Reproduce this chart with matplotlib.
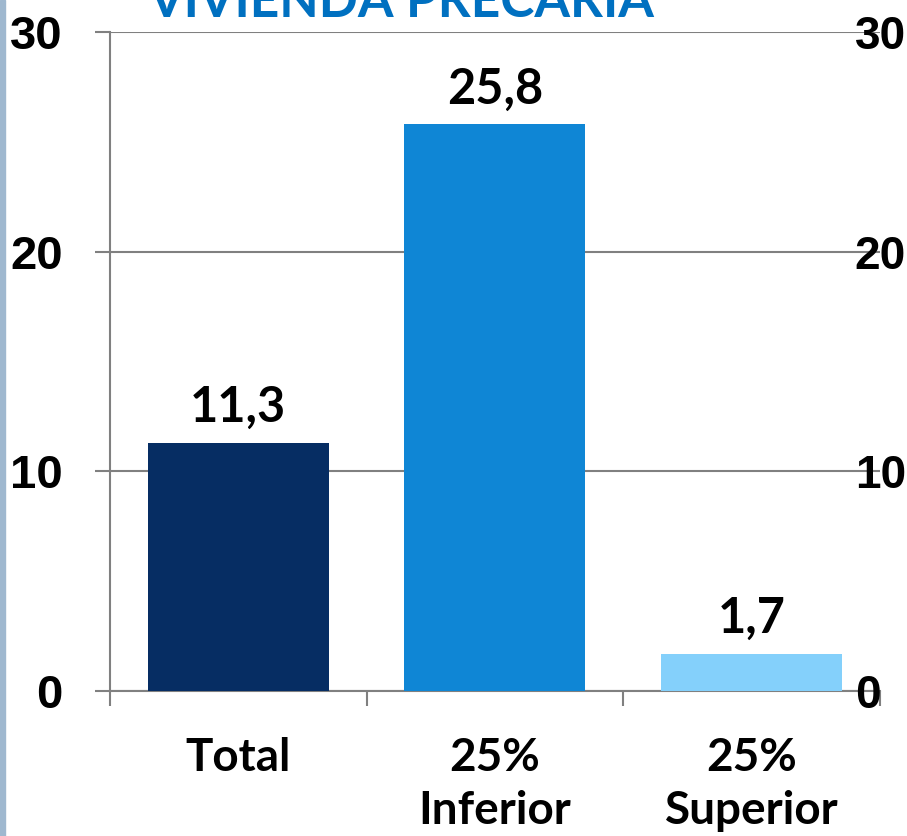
import matplotlib.pyplot as plt
from matplotlib.patches import Rectangle

# datos
categorias = ['Total', '25%\nInferior', '25%\nSuperior']
valores = [11.3, 25.8, 1.7]
colores = ['#062D63', '#0F86D5', '#84D0FB']
ticks_y = [0, 10, 20, 30]
titulo = 'VIVIENDA PRECARIA'

GRIS = '#808080'
FUENTE = ['Lato', 'DejaVu Sans']
FUENTE_EJE = ['Liberation Sans', 'DejaVu Sans']

fig = plt.figure(figsize=(9.07, 8.36), dpi=100)
ax = fig.add_axes([0.1213, 0.1734, 0.8487, 0.7883])

x = range(len(categorias))
ax.bar(x, valores, width=0.705, color=colores, zorder=3)

ax.set_xlim(-0.5, len(categorias) - 0.5)
ax.set_ylim(0, 30)
ax.set_yticks(ticks_y)
ax.set_yticklabels([str(t) for t in ticks_y], fontsize=34, fontweight='bold',
                   family=FUENTE_EJE)
ax.tick_params(axis='y', length=11, width=1.5, color=GRIS, pad=23)
ax.grid(axis='y', color=GRIS, lw=1.5, zorder=0)

ax.set_xticks(list(x))
ax.set_xticklabels(categorias, fontsize=33, fontweight='bold', family=FUENTE,
                   linespacing=1.32)
ax.tick_params(axis='x', length=0, pad=33)
ax.set_xticks([i - 0.5 for i in range(len(categorias) + 1)], minor=True)
ax.tick_params(axis='x', which='minor', length=11, width=1.5, color=GRIS)

for lado in ['top', 'right']:
    ax.spines[lado].set_visible(False)
for lado in ['left', 'bottom']:
    ax.spines[lado].set_color(GRIS)
    ax.spines[lado].set_linewidth(1.5)

# eje derecho
ax2 = ax.twinx()
ax2.set_ylim(ax.get_ylim())
ax2.set_yticks(ticks_y)
ax2.set_yticklabels([str(t) for t in ticks_y], fontsize=33, fontweight='bold',
                    family=FUENTE_EJE)
ax2.tick_params(axis='y', length=0, pad=-18)
for lado in ax2.spines:
    ax2.spines[lado].set_visible(False)

# etiquetas de valores
for i, v in enumerate(valores):
    ax.annotate(f'{v:.1f}'.replace('.', ','), (i, v), xytext=(0, 15),
                textcoords='offset points', ha='center', va='baseline',
                fontsize=35, fontweight='bold', family=FUENTE)

fig.text(0.442, 0.98, titulo, ha='center', va='baseline', fontsize=37,
         fontweight='bold', color='#0070C0', family=FUENTE)

fig.patches.append(Rectangle((0, 0), 0.005, 1, transform=fig.transFigure,
                             color='#9FB8CF', zorder=0))

fig.savefig('out.png', dpi=100)
